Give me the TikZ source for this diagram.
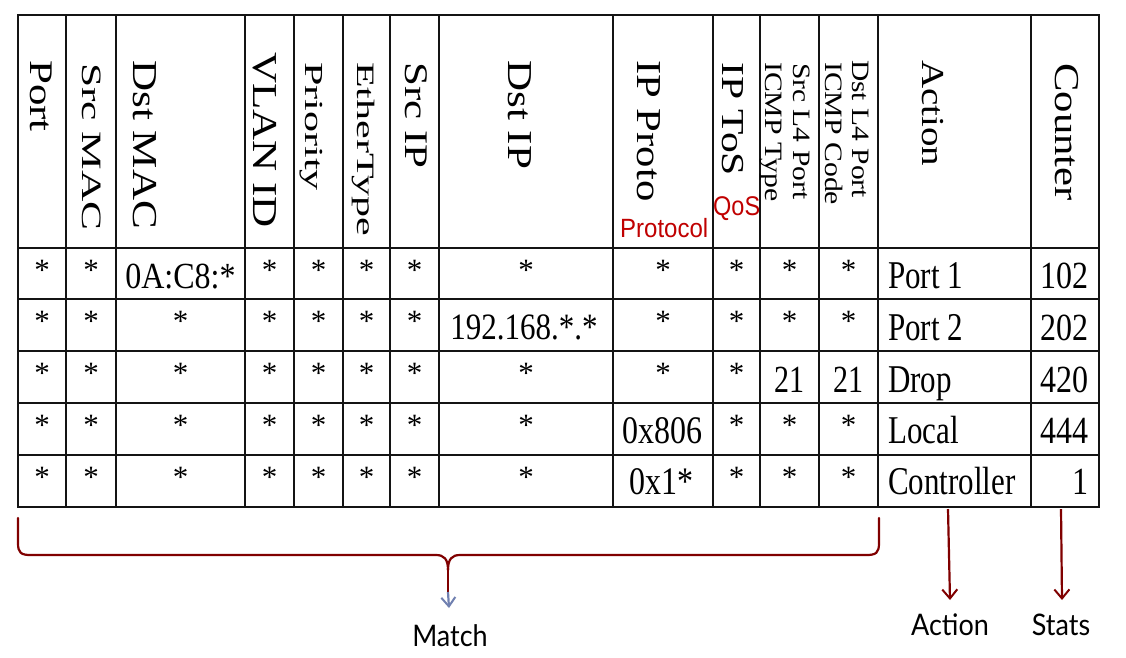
\documentclass[tikz,border=0pt]{standalone}
\usepackage{fontspec}
\setmainfont{Liberation Serif}
\newfontfamily\redsans{Liberation Sans}
\newfontfamily\labsans{Lato}
\usepackage{graphicx}
\usetikzlibrary{arrows.meta}
\definecolor{tblred}{RGB}{192,0,0}
\definecolor{brc}{RGB}{128,0,0}
\definecolor{tipblue}{RGB}{112,128,176}
\newcommand\fsz[1]{\fontsize{#1}{#1}\selectfont}
\newcommand\hdtxt[3]{\fsz{#1}\scalebox{#2}[1]{#3}}
\newcommand\bdtxt[3]{\fsz{#1}\scalebox{1}[#2]{#3}}
\begin{document}
\begin{tikzpicture}[x=1pt,y=-1pt,
  hdr/.style={rotate=-90,anchor=base west,inner sep=0pt},
  cell/.style={anchor=base,inner sep=0pt},
  lcell/.style={anchor=base west,inner sep=0pt},
  rcell/.style={anchor=base east,inner sep=0pt},
  star/.style={anchor=base,inner sep=0pt,font=\fsz{31}},
  grid/.style={line width=2.3pt,draw=black!92,line cap=rect},
  redlab/.style={anchor=base west,inner sep=0pt,text=tblred},
  brace/.style={draw=brc,line width=2.2pt,line cap=round,line join=round},
  redarrow/.style={draw=brc,line width=2.2pt,-{Straight Barb[length=9pt,width=15pt,line width=2pt]}},
  bluearrow/.style={draw=tipblue,line width=2.2pt,-{Straight Barb[length=9pt,width=14pt,line width=2pt]}},
  lab/.style={anchor=base,inner sep=0pt,font=\labsans\fsz{27}}]
\useasboundingbox (0,0) rectangle (1126,657);
\fill[white] (0,0) rectangle (1126,657);
% grid
\foreach \x in {18,66,116,245,294,343,390,439,613,713,760,819,878,1031,1099}
  \draw[grid] (\x,15) -- (\x,507);
\foreach \y in {15,248,299,351,403,455,507}
  \draw[grid] (18,\y) -- (1099,\y);
% headers
\node[hdr] (hPort) at (30,60) {\hdtxt{33}{1.30}{Port}};
\node[hdr] (hSrcMAC) at (82,63) {\hdtxt{28}{1.55}{Src MAC}};
\node[hdr] (hDstMAC) at (133,60) {\hdtxt{35}{1.23}{Dst MAC}};
\node[hdr] (hVLAN) at (253,52) {\hdtxt{35}{1.23}{VLAN ID}};
\node[hdr] (hPrio) at (305,62) {\hdtxt{26}{1.62}{Priority}};
\node[hdr] (hEther) at (357,62) {\hdtxt{25}{1.68}{EtherType}};
\node[hdr] (hSrcIP) at (405,62) {\hdtxt{33}{1.30}{Src IP}};
\node[hdr] (hDstIP) at (508,60) {\hdtxt{35}{1.23}{Dst IP}};
\node[hdr] (hProto) at (637,60) {\hdtxt{35}{1.22}{IP Proto}};
\node[hdr] (hToS) at (722,62) {\hdtxt{32}{1.30}{IP ToS}};
\node[hdr] (hSrcL4) at (793,63) {\hdtxt{25}{1.18}{Src L4 Port}};
\node[hdr] (hICMPT) at (765,62) {\hdtxt{25}{1.19}{ICMP Type}};
\node[hdr] (hDstL4) at (852,60) {\hdtxt{25}{1.18}{Dst L4 Port}};
\node[hdr] (hICMPC) at (825,62) {\hdtxt{25}{1.19}{ICMP Code}};
\node[hdr] (hAction) at (922,60) {\hdtxt{32}{1.22}{Action}};
\node[hdr] (hCounter) at (1055,63) {\hdtxt{35}{1.22}{Counter}};
% red notes
\node[redlab] (nProto) at (620,237) {\redsans\bdtxt{24}{1.1}{Protocol}};
\node[redlab] (nQoS) at (713,215) {\redsans\bdtxt{23.5}{1.15}{QoS}};
% asterisks
\def\cx{{0,42,91,180.5,269.5,318.5,366.5,414.5,526,663,736.5,789.5,848.5}}
\foreach \r/\t/\cols in {1/248/{1,2,4,5,6,7,8,9,10,11,12},
                         2/299/{1,2,3,4,5,6,7,9,10,11,12},
                         3/351/{1,2,3,4,5,6,7,8,9,10},
                         4/403/{1,2,3,4,5,6,7,8,10,11,12},
                         5/455/{1,2,3,4,5,6,7,8,10,11,12}}{
  \foreach \c in \cols {
    \pgfmathsetmacro\xx{\cx[\c]}
    \pgfmathsetmacro\yy{\t+32}
    \node[star] (s\r-\c) at (\xx,\yy) {*};
  }
}
% special cells
\node[cell] (dmac1) at (180.5,288) {\bdtxt{32}{1.15}{0A:C8:*}};
\node[cell] (dip2) at (524,339) {\bdtxt{31}{1.2}{192.168.*.*}};
\node[cell] (sl43) at (789.5,392) {\bdtxt{30}{1.28}{21}};
\node[cell] (dl43) at (848.5,392) {\bdtxt{30}{1.28}{21}};
\node[cell] (pr4) at (662,443) {\bdtxt{32}{1.22}{0x806}};
\node[cell] (pr5) at (661,494) {\bdtxt{32}{1.22}{0x1*}};
% action column
\node[lcell] (a1) at (888,288) {\bdtxt{31}{1.27}{Port 1}};
\node[lcell] (a2) at (888,340) {\bdtxt{31}{1.27}{Port 2}};
\node[lcell] (a3) at (888,392) {\bdtxt{31}{1.27}{Drop}};
\node[lcell] (a4) at (888,443) {\bdtxt{31}{1.27}{Local}};
\node[lcell] (a5) at (888,494) {\bdtxt{31}{1.27}{Controller}};
% counter column
\node[rcell] (c1) at (1089,288) {\bdtxt{32}{1.2}{102}};
\node[rcell] (c2) at (1089,340) {\bdtxt{32}{1.2}{202}};
\node[rcell] (c3) at (1089,392) {\bdtxt{32}{1.2}{420}};
\node[rcell] (c4) at (1089,443) {\bdtxt{32}{1.2}{444}};
\node[rcell] (c5) at (1089,494) {\bdtxt{32}{1.2}{1}};
% brace
\coordinate (bL) at (18,518);
\coordinate (bR) at (879,518);
\coordinate (bC) at (448,570);
\coordinate (bStem) at (448,592);
\coordinate (bTip) at (449,608);
\draw[brace] (bL) -- (18,543) .. controls (18,553) and (21,555) .. (31,555)
  -- (436,555) .. controls (444,555) and (448,559) .. (bC);
\draw[brace] (bR) -- (879,543) .. controls (879,553) and (876,555) .. (866,555)
  -- (460,555) .. controls (452,555) and (448,559) .. (bC);
\draw[brace] (bC) -- (bStem);
\draw[bluearrow] (bStem) -- (bTip);
% labels
\node[lab] (lMatch) at (450,646) {\scalebox{1}[1.1]{Match}};
\node[lab] (lAction) at (950,635) {\scalebox{1}[1.1]{Action}};
\node[lab] (lStats) at (1061,635) {\scalebox{1}[1.1]{Stats}};
% arrows
\coordinate (aS) at (948,509);
\coordinate (aE) at (950,600);
\coordinate (sS) at (1061,509);
\coordinate (sE) at (1062,600);
\draw[redarrow] (aS) -- (aE);
\draw[redarrow] (sS) -- (sE);
\end{tikzpicture}
\end{document}
